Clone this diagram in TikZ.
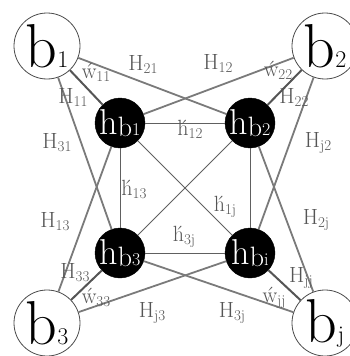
\documentclass[tikz,border=0pt]{standalone}
\definecolor{linegray}{HTML}{7A7A7A}
\definecolor{darkline}{HTML}{555555}
\definecolor{labgray}{HTML}{555555}
\definecolor{innerline}{HTML}{606060}
\newcommand{\bl}[1]{{\fontsize{62}{62}\selectfont b}{\fontsize{24}{24}\selectfont #1}}
\newcommand{\hl}[1]{{\fontsize{36}{36}\selectfont h}\raisebox{-2pt}{\fontsize{28}{28}\selectfont b}\raisebox{-1pt}{\fontsize{18}{18}\selectfont #1}}
\newcommand{\lb}[2]{{\fontsize{22}{22}\selectfont #1}\raisebox{-3pt}{\fontsize{15}{15}\selectfont #2}}
\tikzset{
  outer/.style={circle,draw=black!70,line width=0.8pt,fill=white,minimum size=66pt,inner sep=0pt},
  hidden/.style={circle,draw=black,fill=black,text=white,minimum size=50pt,inner sep=0pt},
  lab/.style={text=labgray,inner sep=0pt},
  cross/.style={draw=linegray,line width=1.8pt},
  direct/.style={draw=darkline,line width=2pt},
  inner/.style={draw=innerline,line width=0.9pt}
}
\begin{document}
\begin{tikzpicture}[x=1pt,y=-1pt]
\useasboundingbox (0,0) rectangle (350,356);
% nodes
\node[hidden] (hb1) at (120,123) {\hl{1}};
\node[hidden] (hb2) at (250,123) {\hl{2}};
\node[hidden] (hb3) at (120,253) {\hl{3}};
\node[hidden] (hbi) at (250,253) {\hl{i}};
\node[outer] (b1) at (47,46) {\bl{1}};
\node[outer] (b2) at (325,46) {\bl{2}};
\node[outer] (b3) at (47,323) {\bl{3}};
\node[outer] (bj) at (325,323) {\bl{j}};
% connectors
\path[inner] (hb1) -- (hb2);
\path[inner] (hb1) -- (hb3);
\path[inner] (hb1) -- (hbi);
\path[inner] (hb2) -- (hb3);
\path[inner] (hb2) -- (hbi);
\path[inner] (hb3) -- (hbi);
\path[cross] (b1) -- (hb2);
\path[cross] (b1) -- (hb3);
\path[cross] (b2) -- (hb1);
\path[cross] (b2) -- (hbi);
\path[cross] (b3) -- (hb1);
\path[cross] (b3) -- (hbi);
\path[cross] (bj) -- (hb2);
\path[cross] (bj) -- (hb3);
\path[direct] (b1) -- (hb1);
\path[direct] (b2) -- (hb2);
\path[direct] (b3) -- (hb3);
\path[direct] (bj) -- (hbi);
% labels
\node[lab] (lw11) at (96,72) {\lb{\'w}{11}};
\node[lab] (lH11) at (73,97) {\lb{H}{11}};
\node[lab] (lH21) at (143,64) {\lb{H}{21}};
\node[lab] (lH12) at (218,63) {\lb{H}{12}};
\node[lab] (lw22) at (278,70) {\lb{\'w}{22}};
\node[lab] (lH22) at (294,97) {\lb{H}{22}};
\node[lab] (lH31) at (57,143) {\lb{H}{31}};
\node[lab] (lHj2) at (318,143) {\lb{H}{j2}};
\node[lab] (lh12) at (190,129) {\lb{\'h}{12}};
\node[lab] (lh13) at (134,189) {\lb{\'h}{13}};
\node[lab] (lh1j) at (225,207) {\lb{\'h}{1j}};
\node[lab] (lH13) at (55,222) {\lb{H}{13}};
\node[lab] (lH2j) at (316,220) {\lb{H}{2j}};
\node[lab] (lh3j) at (184,237) {\lb{\'h}{3j}};
\node[lab] (lH33) at (75,273) {\lb{H}{33}};
\node[lab] (lHjj) at (301,278) {\lb{H}{jj}};
\node[lab] (lw33) at (96,297) {\lb{\'w}{33}};
\node[lab] (lwjj) at (274,298) {\lb{\'w}{jj}};
\node[lab] (lHj3) at (152,313) {\lb{H}{j3}};
\node[lab] (lH3j) at (232,313) {\lb{H}{3j}};
\end{tikzpicture}
\end{document}
